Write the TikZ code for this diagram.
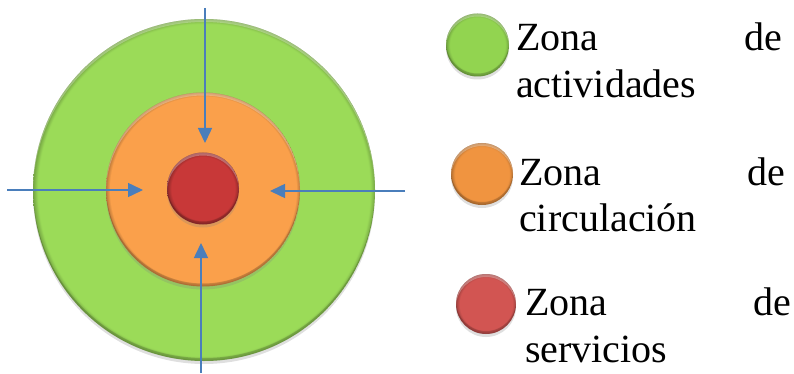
\documentclass[tikz,border=0pt]{standalone}
\usepackage{fontspec}
\setmainfont{Liberation Serif}
\usetikzlibrary{arrows.meta}
\usetikzlibrary{shadows}
\hyphenpenalty=10000
\tolerance=10000

\definecolor{actgreen}{RGB}{155,219,88}
\definecolor{circorange}{RGB}{250,160,75}
\definecolor{servred}{RGB}{200,56,56}
\definecolor{keygreen}{RGB}{146,212,80}
\definecolor{keyorange}{RGB}{240,148,64}
\definecolor{keyred}{RGB}{210,85,82}
\definecolor{arrowblue}{RGB}{74,126,187}

\pgfdeclareradialshading{bevelact}{\pgfpoint{0bp}{0bp}}{color(0bp)=(actgreen); color(24.3bp)=(actgreen); color(25bp)=(actgreen!75!black); color(50bp)=(actgreen!75!black)}
\pgfdeclareradialshading{bevelcirc}{\pgfpoint{0bp}{0bp}}{color(0bp)=(circorange); color(24bp)=(circorange); color(25bp)=(circorange!75!black); color(50bp)=(circorange!75!black)}
\pgfdeclareradialshading{bevelserv}{\pgfpoint{0bp}{0bp}}{color(0bp)=(servred); color(22bp)=(servred); color(25bp)=(servred!70!black); color(50bp)=(servred!70!black)}
\pgfdeclareradialshading{bevelkeyact}{\pgfpoint{0bp}{0bp}}{color(0bp)=(keygreen); color(22bp)=(keygreen); color(25bp)=(keygreen!75!black); color(50bp)=(keygreen!75!black)}
\pgfdeclareradialshading{bevelkeycirc}{\pgfpoint{0bp}{0bp}}{color(0bp)=(keyorange); color(22bp)=(keyorange); color(25bp)=(keyorange!75!black); color(50bp)=(keyorange!75!black)}
\pgfdeclareradialshading{bevelkeyserv}{\pgfpoint{0bp}{0bp}}{color(0bp)=(keyred); color(22bp)=(keyred); color(25bp)=(keyred!75!black); color(50bp)=(keyred!75!black)}

\tikzset{
  zone/.style args={#1/#2}{circle, inner sep=0pt, minimum size=#2*2pt, shading=#1,
    drop shadow={opacity=.25, shadow xshift=0pt, shadow yshift=-3pt},
    path picture={
      \fill[white, opacity=.3, even odd rule] (path picture bounding box.center) circle (#2pt)
        ([yshift=-3pt]path picture bounding box.center) circle (#2pt);
      \fill[black, opacity=.15, even odd rule] (path picture bounding box.center) circle (#2pt)
        ([yshift=3pt]path picture bounding box.center) circle (#2pt);
    }},
  flow/.style={draw=arrowblue, line width=1.5pt, -{Triangle[length=15pt,width=14pt]}},
  zonetext/.style={anchor=base west, inner sep=0pt, text width=266pt, align=justify,
    font=\fontsize{40}{47}\selectfont}
}

\begin{document}
\begin{tikzpicture}[x=1pt,y=-1pt]
  \useasboundingbox (0,0) rectangle (794,374);

  % zones
  \node[zone=bevelact/171] (act) at (204,190) {};
  \node[zone=bevelcirc/97] (circ) at (203,189.5) {};
  \node[zone=bevelserv/36] (serv) at (203,188.5) {};

  % flows towards the centre
  \coordinate (n_1) at (205,8);   \coordinate (n_2) at (205,143);
  \coordinate (w_1) at (7,190);   \coordinate (w_2) at (143,190);
  \coordinate (e_1) at (405,191); \coordinate (e_2) at (270,191);
  \coordinate (s_1) at (201,373); \coordinate (s_2) at (201,243);
  \draw[flow] (n_1) -- (n_2);
  \draw[flow] (w_1) -- (w_2);
  \draw[flow] (e_1) -- (e_2);
  \draw[flow] (s_1) -- (s_2);

  % legend
  \node[zone=bevelkeyact/31.5] (keyact) at (477.5,45) {};
  \node[zone=bevelkeycirc/31] (keycirc) at (482,174) {};
  \node[zone=bevelkeyserv/30] (keyserv) at (486,304) {};

  \node[zonetext] (txtact) at (516,51) {Zona de actividades};
  \node[zonetext] (txtcirc) at (519,185) {Zona de circulación};
  \node[zonetext] (txtserv) at (525,315) {Zona de servicios};
\end{tikzpicture}
\end{document}
